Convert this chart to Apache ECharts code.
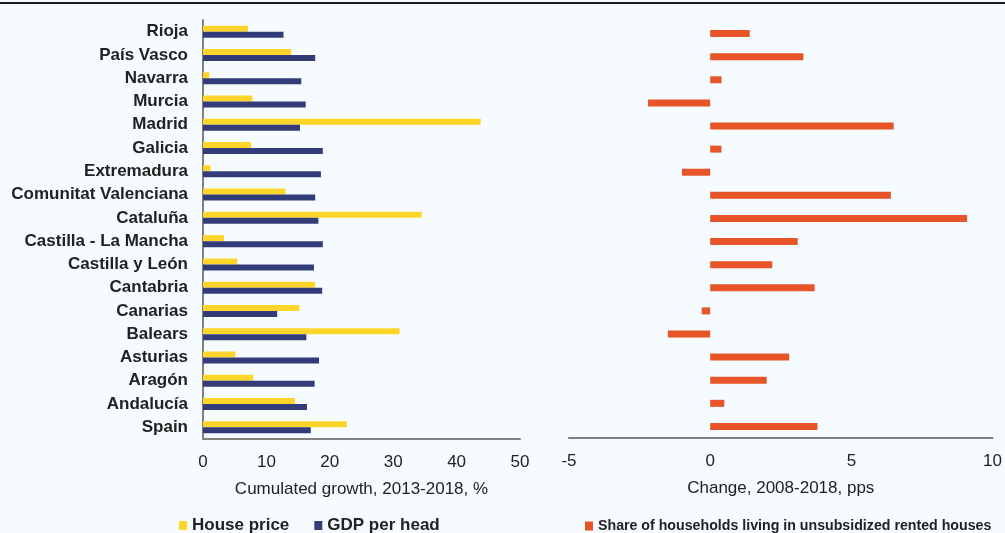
<!DOCTYPE html>
<html>
<head>
<meta charset="utf-8">
<script src="https://cdn.jsdelivr.net/npm/echarts@6/dist/echarts.min.js"></script>
<style>
  html, body { margin: 0; padding: 0; background: #f5fbfe; }
  #chart { width: 1005px; height: 533px; }
</style>
</head>
<body>
<div id="chart"></div>
<script>
// regions, top to bottom as in the picture
var regions = ['Rioja', 'País Vasco', 'Navarra', 'Murcia', 'Madrid', 'Galicia', 'Extremadura',
  'Comunitat Valenciana', 'Cataluña', 'Castilla - La Mancha', 'Castilla y León', 'Cantabria',
  'Canarias', 'Balears', 'Asturias', 'Aragón', 'Andalucía', 'Spain']

// cumulated growth 2013-2018, %
var housePrice = [7.1, 13.9, 1.0, 7.8, 43.8, 7.6, 1.2, 13.0, 34.5, 3.3, 5.4, 17.7, 15.2, 31.0, 5.1, 7.9, 14.5, 22.7]
var gdpPerHead = [12.7, 17.7, 15.5, 16.2, 15.3, 18.9, 18.6, 17.7, 18.2, 18.9, 17.5, 18.8, 11.7, 16.3, 18.3, 17.6, 16.4, 17.0]

// change 2008-2018, pps
var rentShare = [1.4, 3.3, 0.4, -2.2, 6.5, 0.4, -1.0, 6.4, 9.1, 3.1, 2.2, 3.7, -0.3, -1.5, 2.8, 2.0, 0.5, 3.8]

var font = "'Liberation Sans', Arial, sans-serif"
var axisColor = '#808080'

var chart = echarts.init(document.getElementById('chart'))

chart.setOption({
  backgroundColor: '#f5fbfe',
  animation: false,
  graphic: [{
    type: 'line',
    shape: { x1: 0, y1: 3, x2: 1005, y2: 3 },
    style: { stroke: '#1a1a1a', lineWidth: 2 }
  }],
  legend: [{
    data: ['House price', 'GDP per head'],
    left: 174,
    top: 512,
    icon: 'rect',
    itemWidth: 8,
    itemHeight: 9,
    itemGap: 25,
    textStyle: { fontFamily: font, fontWeight: 'bold', fontSize: 17, color: '#222' }
  }, {
    data: ['Share of households living in unsubsidized rented houses'],
    left: 580,
    top: 514,
    icon: 'rect',
    itemWidth: 8,
    itemHeight: 9,
    textStyle: { fontFamily: font, fontWeight: 'bold', fontSize: 14.2, color: '#222' }
  }],
  grid: [
    { left: 203, top: 20, width: 317, height: 419 },
    { left: 569, top: 22, width: 426, height: 416 }
  ],
  xAxis: [{
    gridIndex: 0,
    type: 'value',
    min: 0,
    max: 50,
    interval: 10,
    name: 'Cumulated growth, 2013-2018, %',
    nameLocation: 'middle',
    nameGap: 42,
    nameTextStyle: { fontFamily: font, fontSize: 17, color: '#222' },
    splitLine: { show: false },
    axisTick: { show: false },
    axisLine: { show: true, lineStyle: { color: axisColor, width: 2 } },
    axisLabel: { fontFamily: font, fontSize: 17, color: '#222', margin: 15 }
  }, {
    gridIndex: 1,
    type: 'value',
    min: -5,
    max: 10,
    interval: 5,
    name: 'Change, 2008-2018, pps',
    nameLocation: 'middle',
    nameGap: 42,
    nameTextStyle: { fontFamily: font, fontSize: 17, color: '#222' },
    splitLine: { show: false },
    axisTick: { show: false },
    axisLine: { show: true, onZero: false, lineStyle: { color: axisColor, width: 2 } },
    axisLabel: { fontFamily: font, fontSize: 17, color: '#222', margin: 15 }
  }],
  yAxis: [{
    gridIndex: 0,
    type: 'category',
    data: regions,
    inverse: true,
    axisTick: { show: false },
    axisLine: { show: true, lineStyle: { color: axisColor, width: 2 } },
    axisLabel: {
      fontFamily: font,
      fontWeight: 'bold',
      fontSize: 17,
      color: '#222',
      margin: 15
    }
  }, {
    gridIndex: 1,
    type: 'category',
    data: regions,
    inverse: true,
    axisTick: { show: false },
    axisLine: { show: false },
    axisLabel: { show: false }
  }],
  series: [{
    name: 'House price',
    type: 'bar',
    xAxisIndex: 0,
    yAxisIndex: 0,
    data: housePrice,
    barWidth: 6,
    barGap: '0%',
    itemStyle: { color: '#ffd52a' }
  }, {
    name: 'GDP per head',
    type: 'bar',
    xAxisIndex: 0,
    yAxisIndex: 0,
    data: gdpPerHead,
    barWidth: 6,
    barGap: '0%',
    itemStyle: { color: '#323c78' }
  }, {
    name: 'Share of households living in unsubsidized rented houses',
    type: 'bar',
    xAxisIndex: 1,
    yAxisIndex: 1,
    data: rentShare,
    barWidth: 7,
    itemStyle: { color: '#e75427' }
  }]
})
</script>
</body>
</html>
